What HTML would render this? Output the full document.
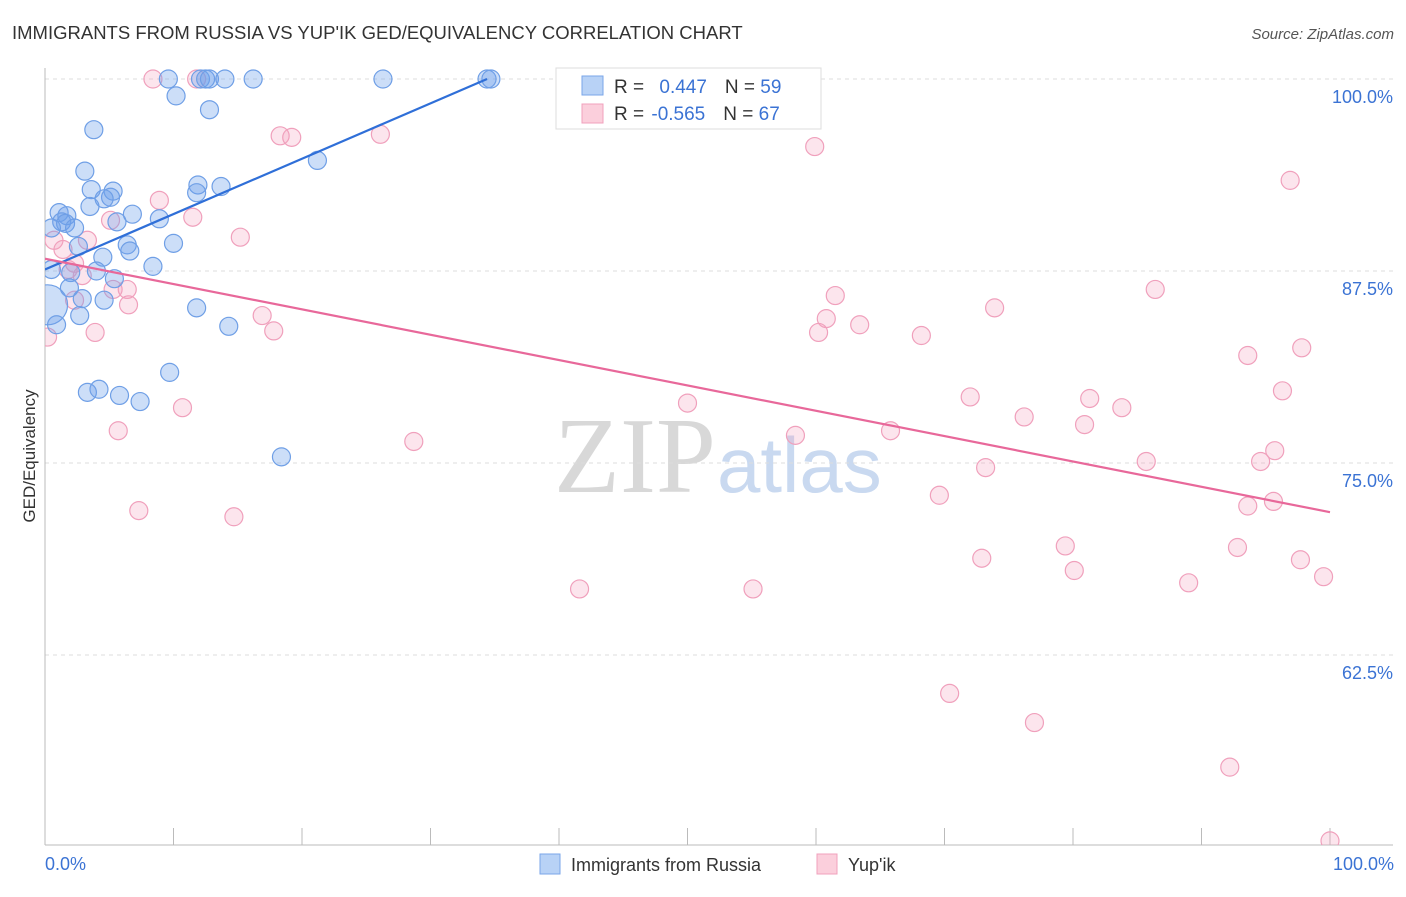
<!DOCTYPE html>
<html><head><meta charset="utf-8"><style>
body{margin:0;background:#fff;font-family:"Liberation Sans",sans-serif;}
</style></head><body>
<svg id="chart" width="1406" height="892" viewBox="0 0 1406 892" xmlns="http://www.w3.org/2000/svg">
<defs><clipPath id="plotclip"><rect x="45" y="55" width="1360" height="790"/></clipPath></defs>
<text x="12" y="39" font-size="18.5" fill="#333">IMMIGRANTS FROM RUSSIA VS YUP'IK GED/EQUIVALENCY CORRELATION CHART</text>
<text x="1394" y="39" font-size="15" fill="#555" font-style="italic" text-anchor="end">Source: ZipAtlas.com</text>
<text x="716" y="492" font-size="108" fill="#d8d8d8" text-anchor="end" font-family="Liberation Serif,serif">ZIP</text>
<text x="717" y="492" font-size="78" fill="#c9d9f0">atlas</text>
<g id="grid"></g><g id="axes"></g><g id="marks" clip-path="url(#plotclip)"></g>
<text transform="translate(35,456) rotate(-90)" font-size="17" fill="#333" text-anchor="middle">GED/Equivalency</text>
<text x="45" y="870" font-size="18" fill="#3b73d4">0.0%</text>
<text x="1394" y="870" font-size="18" fill="#3b73d4" text-anchor="end">100.0%</text>
<g>
<rect x="556" y="68" width="265" height="61" fill="#fff" stroke="#ddd"/>
<rect x="582" y="76" width="21" height="19" fill="#b8d2f6" stroke="#7aa6e8"/>
<rect x="582" y="104" width="21" height="19" fill="#fbcfdc" stroke="#f0a0bc"/>
<text x="614" y="93" font-size="19" fill="#333">R = <tspan fill="#3b73d4" dx="10">0.447</tspan><tspan dx="18" fill="#333">N = </tspan><tspan fill="#3b73d4">59</tspan></text>
<text x="614" y="120" font-size="19" fill="#333">R = <tspan fill="#3b73d4" dx="2">-0.565</tspan><tspan dx="18" fill="#333">N = </tspan><tspan fill="#3b73d4">67</tspan></text>
</g>
<g>
<rect x="540" y="854" width="20" height="20" fill="#b8d2f6" stroke="#7aa6e8"/>
<text x="571" y="871" font-size="18" fill="#333">Immigrants from Russia</text>
<rect x="817" y="854" width="20" height="20" fill="#fbcfdc" stroke="#f0a0bc"/>
<text x="848" y="871" font-size="18" fill="#333">Yup'ik</text>
</g>
</svg>
<script>
const yTicks=[100,87.5,75,62.5];
const yTickLabels=["100.0%","87.5%","75.0%","62.5%"];
const blueX=[9.6,12.1,12.5,12.8,14.0,16.2,26.3,34.4,34.7,10.2,12.8,3.8,21.2,3.1,3.6,5.3,11.9,13.7,11.8,5.1,4.6,3.5,1.1,6.8,1.7,8.9,5.6,1.3,1.6,2.3,0.5,10.0,2.6,6.4,6.6,4.5,8.4,0.5,2.0,4.0,5.4,1.9,2.9,4.6,0.2,11.8,2.7,0.9,14.3,9.7,3.3,4.2,5.8,7.4,18.4];
const blueY=[100,100,100,100,100,100,100,100,100,98.9,98.0,96.7,94.7,94.0,92.8,92.7,93.1,93.0,92.6,92.3,92.2,91.7,91.3,91.2,91.1,90.9,90.7,90.7,90.6,90.3,90.3,89.3,89.1,89.2,88.8,88.4,87.8,87.6,87.4,87.5,87.0,86.4,85.7,85.6,85.3,85.1,84.6,84.0,83.9,80.9,79.6,79.8,79.4,79.0,75.4];
const pinkX=[8.4,11.8,18.3,19.2,26.1,59.9,96.9,8.9,11.5,5.1,15.2,0.7,1.4,3.3,2.3,1.8,2.9,6.4,5.3,2.3,6.5,61.5,73.9,86.4,16.9,60.8,60.2,63.4,68.2,17.8,3.9,0.2,93.6,97.8,96.3,72.0,81.3,83.8,50.0,10.7,76.2,80.9,65.8,58.4,5.7,28.7,95.7,85.7,94.6,73.2,69.6,93.6,95.6,7.3,14.7,79.4,72.9,92.8,97.7,80.1,99.5,89.0,41.6,55.1,70.4,77.0,92.2,100];
const pinkY=[100,100,96.3,96.2,96.4,95.6,93.4,92.1,91.0,90.8,89.7,89.5,88.9,89.5,88.0,87.6,87.2,86.3,86.3,85.6,85.3,85.9,85.1,86.3,84.6,84.4,83.5,84.0,83.3,83.6,83.5,83.2,82.0,82.5,79.7,79.3,79.2,78.6,78.9,78.6,78.0,77.5,77.1,76.8,77.1,76.4,75.8,75.1,75.1,74.7,72.9,72.2,72.5,71.9,71.5,69.6,68.8,69.5,68.7,68.0,67.6,67.2,66.8,66.8,60.0,58.1,55.2,50.4];
const blueTrend=[[0,87.6],[34.4,100]];
const pinkTrend=[[0,88.3],[100,71.8]];
const NS="http://www.w3.org/2000/svg";
const X=v=>45+v*12.85, Y=v=>79+(100-v)*15.36;
function mk(tag,attrs,parent){const e=document.createElementNS(NS,tag);for(const k in attrs)e.setAttribute(k,attrs[k]);document.getElementById(parent).appendChild(e);return e;}
yTicks.forEach((t,i)=>{
 const l=mk('line',{x1:45,x2:1393,y1:Y(t),y2:Y(t),stroke:'#ddd','stroke-dasharray':'4,4'},'grid');
 
 
 const tx=mk('text',{x:1393,y:Y(t)+24,'font-size':18,fill:'#3b73d4','text-anchor':'end'},'grid');
 tx.textContent=yTickLabels[i];
 
 
});
const ax=mk('line',{x1:45,x2:45,y1:68,y2:845,stroke:'#bbb'},'axes');


const bx=mk('line',{x1:45,x2:1393,y1:845,y2:845,stroke:'#bbb'},'axes');


for(let i=0;i<=10;i++){const t=mk('line',{x1:X(i*10),x2:X(i*10),y1:828,y2:845,stroke:'#bbb'},'axes');
 
 }
function pts(xs,ys,fill,stroke,name){xs.forEach((x,i)=>{
 const c=mk('circle',{cx:X(x),cy:Y(ys[i]),r:(name==='russia-point'&&i===44)?20:9,fill:fill,stroke:stroke,'stroke-width':1.2},'marks');
 
 });}
pts(pinkX,pinkY,'rgba(245,160,190,0.28)','#f0a0bc','yupik-point');
pts(blueX,blueY,'rgba(110,160,235,0.35)','#6f9fe6','russia-point');
const bl=mk('line',{x1:X(blueTrend[0][0]),y1:Y(blueTrend[0][1]),x2:X(blueTrend[1][0]),y2:Y(blueTrend[1][1]),stroke:'#2f6fd8','stroke-width':2.2},'marks');


const pl=mk('line',{x1:X(pinkTrend[0][0]),y1:Y(pinkTrend[0][1]),x2:X(pinkTrend[1][0]),y2:Y(pinkTrend[1][1]),stroke:'#e8689a','stroke-width':2.2},'marks');


</script>
</body></html>
